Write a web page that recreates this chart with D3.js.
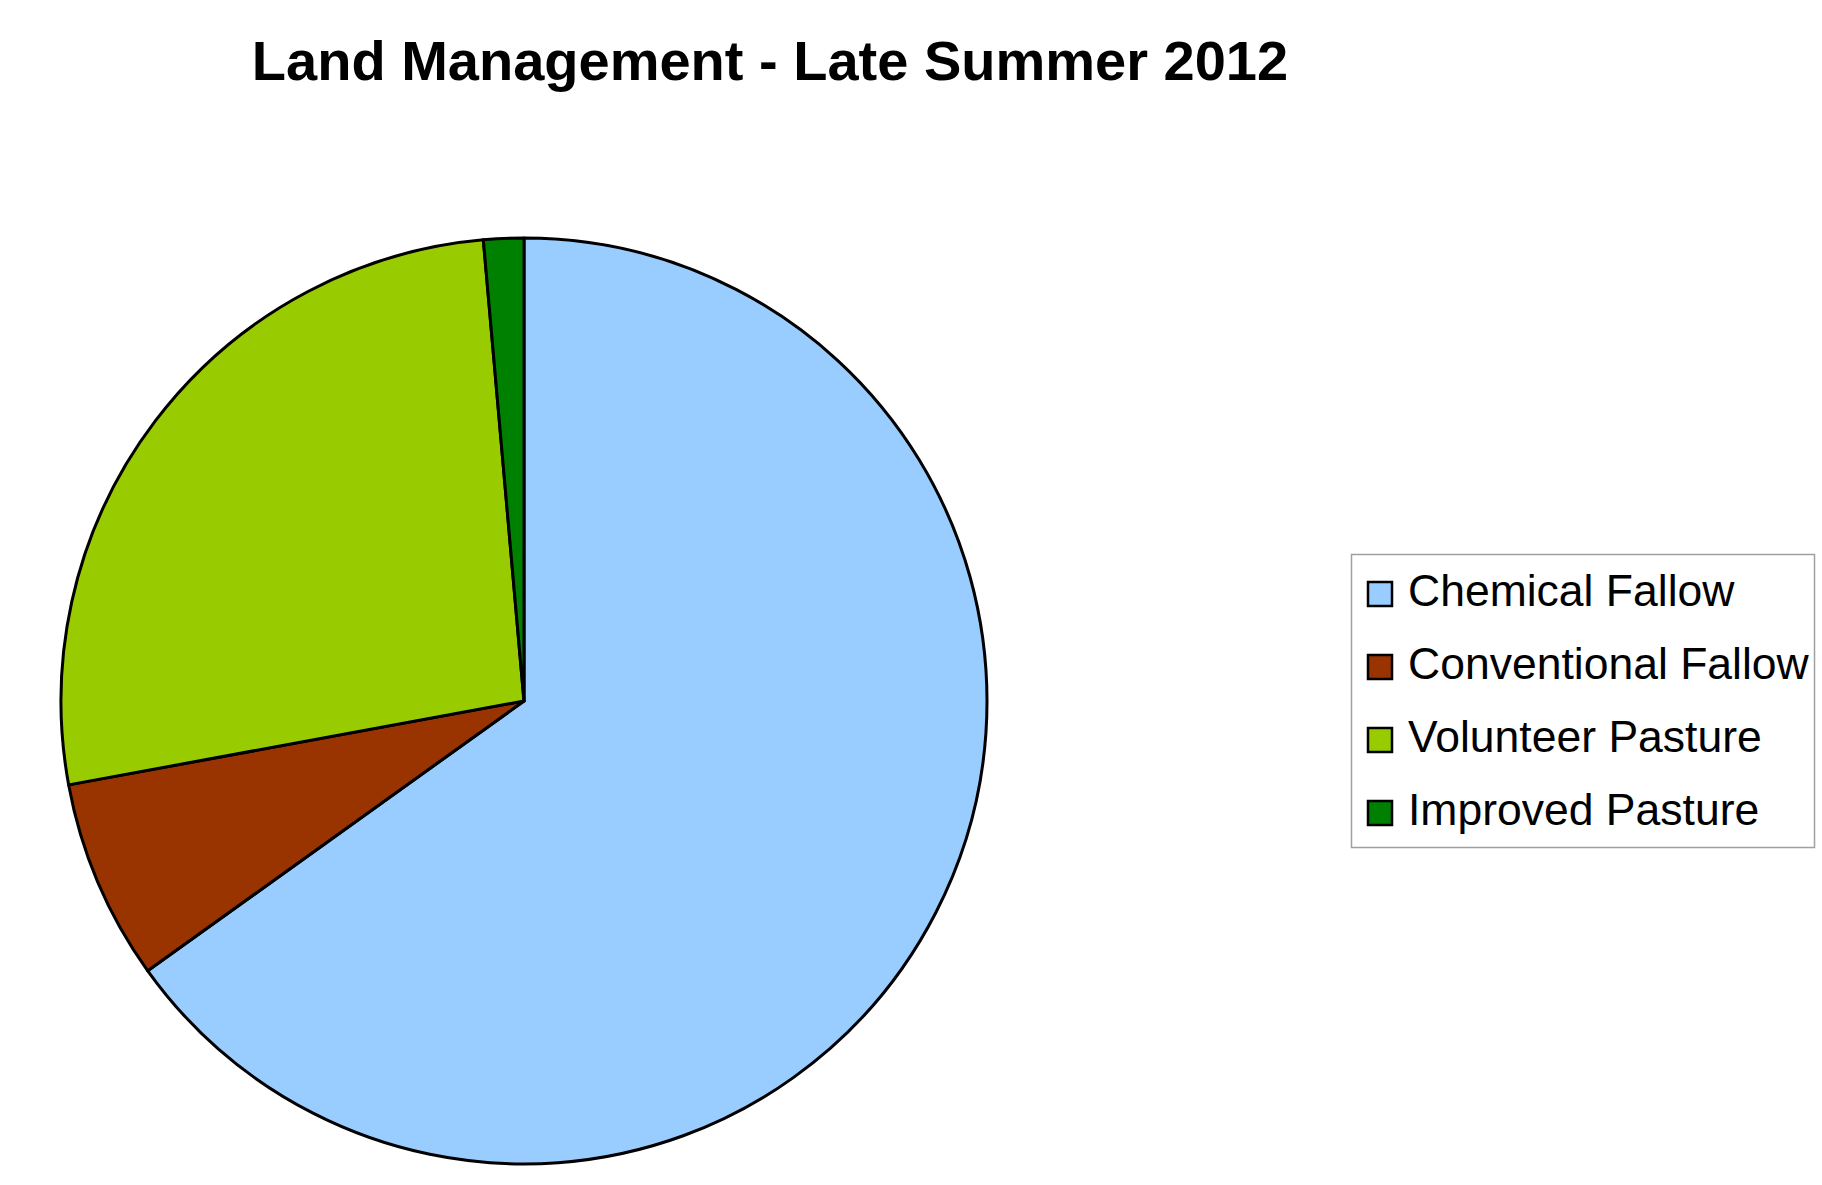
<!DOCTYPE html>
<html><head><meta charset="utf-8">
<script src="https://cdn.jsdelivr.net/npm/d3@7"></script>
<style>html,body{margin:0;padding:0;background:#fff;}svg{display:block;}</style>
</head><body>
<script>
const title = "Land Management - Late Summer 2012";
const categories = ["Chemical Fallow","Conventional Fallow","Volunteer Pasture","Improved Pasture"];
const values = [65.1, 7.0, 26.5, 1.4];
const colors = ["#99ccff","#993300","#99cc00","#008000"];

const W = 1822, H = 1185;
const svg = d3.select("body").append("svg").attr("width", W).attr("height", H);

svg.append("text").attr("x", 770).attr("y", 80).attr("text-anchor","middle")
  .attr("font-family","'Liberation Sans', Arial, sans-serif").attr("font-weight","bold")
  .attr("font-size", 56).attr("fill","#000").text(title);

const data = categories.map((c,i)=>({cat:c, value:values[i], color:colors[i]}));
const pie = d3.pie().sort(null).value(d=>d.value);
const arc = d3.arc().innerRadius(0).outerRadius(463);
const g = svg.append("g").attr("transform","translate(524,701)");
g.selectAll("path").data(pie(data)).join("path")
  .attr("d", arc).attr("fill", d=>d.data.color)
  .attr("stroke","#000").attr("stroke-width",3).attr("stroke-linejoin","round");

const lg = svg.append("g");
lg.append("rect").attr("x",1351.5).attr("y",554.5).attr("width",463).attr("height",293)
  .attr("fill","#fff").attr("stroke","#a0a0a0").attr("stroke-width",1.5);
const y = d3.scalePoint().domain(categories).range([594, 813]);
const items = lg.selectAll("g.item").data(data).join("g").attr("class","item")
  .attr("transform", d=>`translate(0,${y(d.cat)})`);
items.append("rect").attr("x",1368).attr("y",-12).attr("width",24).attr("height",24)
  .attr("fill",d=>d.color).attr("stroke","#000").attr("stroke-width",2.5);
items.append("text").attr("x",1408).attr("y",0).attr("dy","0.28em")
  .attr("font-family","'Liberation Sans', Arial, sans-serif").attr("font-size",44.5)
  .attr("fill","#000").text(d=>d.cat);
</script>
</body></html>
